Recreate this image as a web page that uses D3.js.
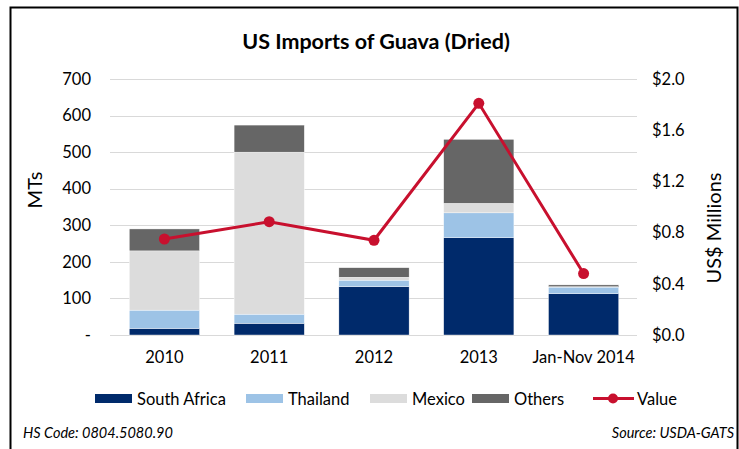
<!DOCTYPE html>
<html>
<head>
<meta charset="utf-8">
<script src="https://cdn.jsdelivr.net/npm/d3@7"></script>
<style>
  body { margin: 0; background: #fff; }
  svg { display: block; font-family: Lato, "Liberation Sans", sans-serif; }
</style>
</head>
<body>
<svg id="chart" width="739" height="449"></svg>
<script>
const years = ["2010", "2011", "2012", "2013", "Jan-Nov 2014"];
const southAfrica = [18, 32, 132, 266, 113];
const thailand = [50, 25, 18, 68, 18];
const mexico = [162, 443, 8, 26, 1];
const others = [60, 74, 26, 175, 5];
const valueMillions = [0.75, 0.885, 0.74, 1.81, 0.48];
const leftTicks = [0, 100, 200, 300, 400, 500, 600, 700];
const rightTicks = [0, 0.4, 0.8, 1.2, 1.6, 2.0];

const seriesNames = ["South Africa", "Thailand", "Mexico", "Others"];
const seriesColors = ["#002a6b", "#9dc3e6", "#dcdcdc", "#666666"];
const lineColor = "#c8102e";

const svg = d3.select("#chart");

// frame
svg.append("path")
  .attr("d", "M10.5,449 V7.5 H737.5 V449")
  .attr("fill", "none")
  .attr("stroke", "#000")
  .attr("stroke-width", 2);

svg.append("text")
  .attr("x", 376)
  .attr("y", 49)
  .attr("text-anchor", "middle")
  .style("font-size", "21.5px")
  .style("font-weight", "bold")
  .text("US Imports of Guava (Dried)");

const x = d3.scaleBand().domain(years).range([112, 636]).paddingInner(0.33).paddingOuter(0.165);
const y = d3.scaleLinear().domain([0, 700]).range([335, 79]);
const y2 = d3.scaleLinear().domain([0, 2.0]).range([335, 79]);

// grid
svg.append("g")
  .selectAll("line")
  .data(leftTicks)
  .join("line")
  .attr("x1", 110)
  .attr("x2", 637)
  .attr("y1", (d) => Math.round(y(d)) + 0.5)
  .attr("y2", (d) => Math.round(y(d)) + 0.5)
  .attr("stroke", "#d9d9d9")
  .attr("stroke-width", 1);

const tickFont = "16.5px";

// left axis
const leftAxis = svg.append("g")
  .attr("transform", "translate(110,0)")
  .call(d3.axisLeft(y).tickValues(leftTicks).tickSize(0).tickPadding(19)
    .tickFormat((d) => (d === 0 ? "-" : d)));
leftAxis.select(".domain").remove();
leftAxis.selectAll("text").style("font-size", tickFont).style("font-family", "Lato").attr("fill", "#000");

// right axis
const rightAxis = svg.append("g")
  .attr("transform", "translate(637,0)")
  .call(d3.axisRight(y2).tickValues(rightTicks).tickSize(0).tickPadding(15)
    .tickFormat((d) => "$" + d.toFixed(1)));
rightAxis.select(".domain").remove();
rightAxis.selectAll("text").style("font-size", tickFont).style("font-family", "Lato").attr("fill", "#000");

// x axis labels
const xAxis = svg.append("g")
  .attr("transform", "translate(0,335)")
  .call(d3.axisBottom(x).tickSize(0).tickPadding(16));
xAxis.select(".domain").remove();
xAxis.selectAll("text").style("font-size", tickFont).style("font-family", "Lato").attr("fill", "#000");

// axis titles
svg.append("text")
  .attr("transform", "translate(42,190) rotate(-90)")
  .attr("text-anchor", "middle")
  .style("font-size", "20px")
  .text("MTs");

svg.append("text")
  .attr("transform", "translate(721,228) rotate(-90)")
  .attr("text-anchor", "middle")
  .style("font-size", "20px")
  .text("US$ Millions");

// stacked bars
const rows = years.map((yr, i) => ({
  year: yr,
  "South Africa": southAfrica[i],
  Thailand: thailand[i],
  Mexico: mexico[i],
  Others: others[i],
}));
const stacked = d3.stack().keys(seriesNames)(rows);

svg.append("g")
  .selectAll("g")
  .data(stacked)
  .join("g")
  .attr("fill", (d, i) => seriesColors[i])
  .selectAll("rect")
  .data((d) => d)
  .join("rect")
  .attr("x", (d) => x(d.data.year))
  .attr("width", x.bandwidth())
  .attr("y", (d) => y(d[1]))
  .attr("height", (d) => y(d[0]) - y(d[1]))
  .attr("stroke", "#fff")
  .attr("stroke-width", 0.4);

// value line
const line = d3.line()
  .x((d, i) => x(years[i]) + x.bandwidth() / 2)
  .y((d) => y2(d));

svg.append("path")
  .datum(valueMillions)
  .attr("d", line)
  .attr("fill", "none")
  .attr("stroke", lineColor)
  .attr("stroke-width", 3);

svg.append("g")
  .selectAll("circle")
  .data(valueMillions)
  .join("circle")
  .attr("cx", (d, i) => x(years[i]) + x.bandwidth() / 2)
  .attr("cy", (d) => y2(d))
  .attr("r", 5.5)
  .attr("fill", lineColor);

// legend
const legendX = [95, 246, 370, 472];
const legend = svg.append("g");
seriesNames.forEach((name, i) => {
  legend.append("rect")
    .attr("x", legendX[i])
    .attr("y", 394)
    .attr("width", 37)
    .attr("height", 9)
    .attr("fill", seriesColors[i]);
  legend.append("text")
    .attr("x", legendX[i] + 42)
    .attr("y", 404.5)
    .style("font-size", "16.5px")
    .text(name);
});
legend.append("line")
  .attr("x1", 593).attr("x2", 634)
  .attr("y1", 398.5).attr("y2", 398.5)
  .attr("stroke", lineColor).attr("stroke-width", 3);
legend.append("circle")
  .attr("cx", 613).attr("cy", 398.5).attr("r", 5)
  .attr("fill", lineColor);
legend.append("text")
  .attr("x", 637)
  .attr("y", 404.5)
  .style("font-size", "16.5px")
  .text("Value");

// footnotes
svg.append("text")
  .attr("x", 23)
  .attr("y", 438)
  .style("font-size", "14.5px")
  .style("font-style", "italic")
  .text("HS Code: 0804.5080.90");

svg.append("text")
  .attr("x", 734)
  .attr("y", 438)
  .attr("text-anchor", "end")
  .style("font-size", "14.5px")
  .style("font-style", "italic")
  .text("Source: USDA-GATS");
</script>
</body>
</html>
